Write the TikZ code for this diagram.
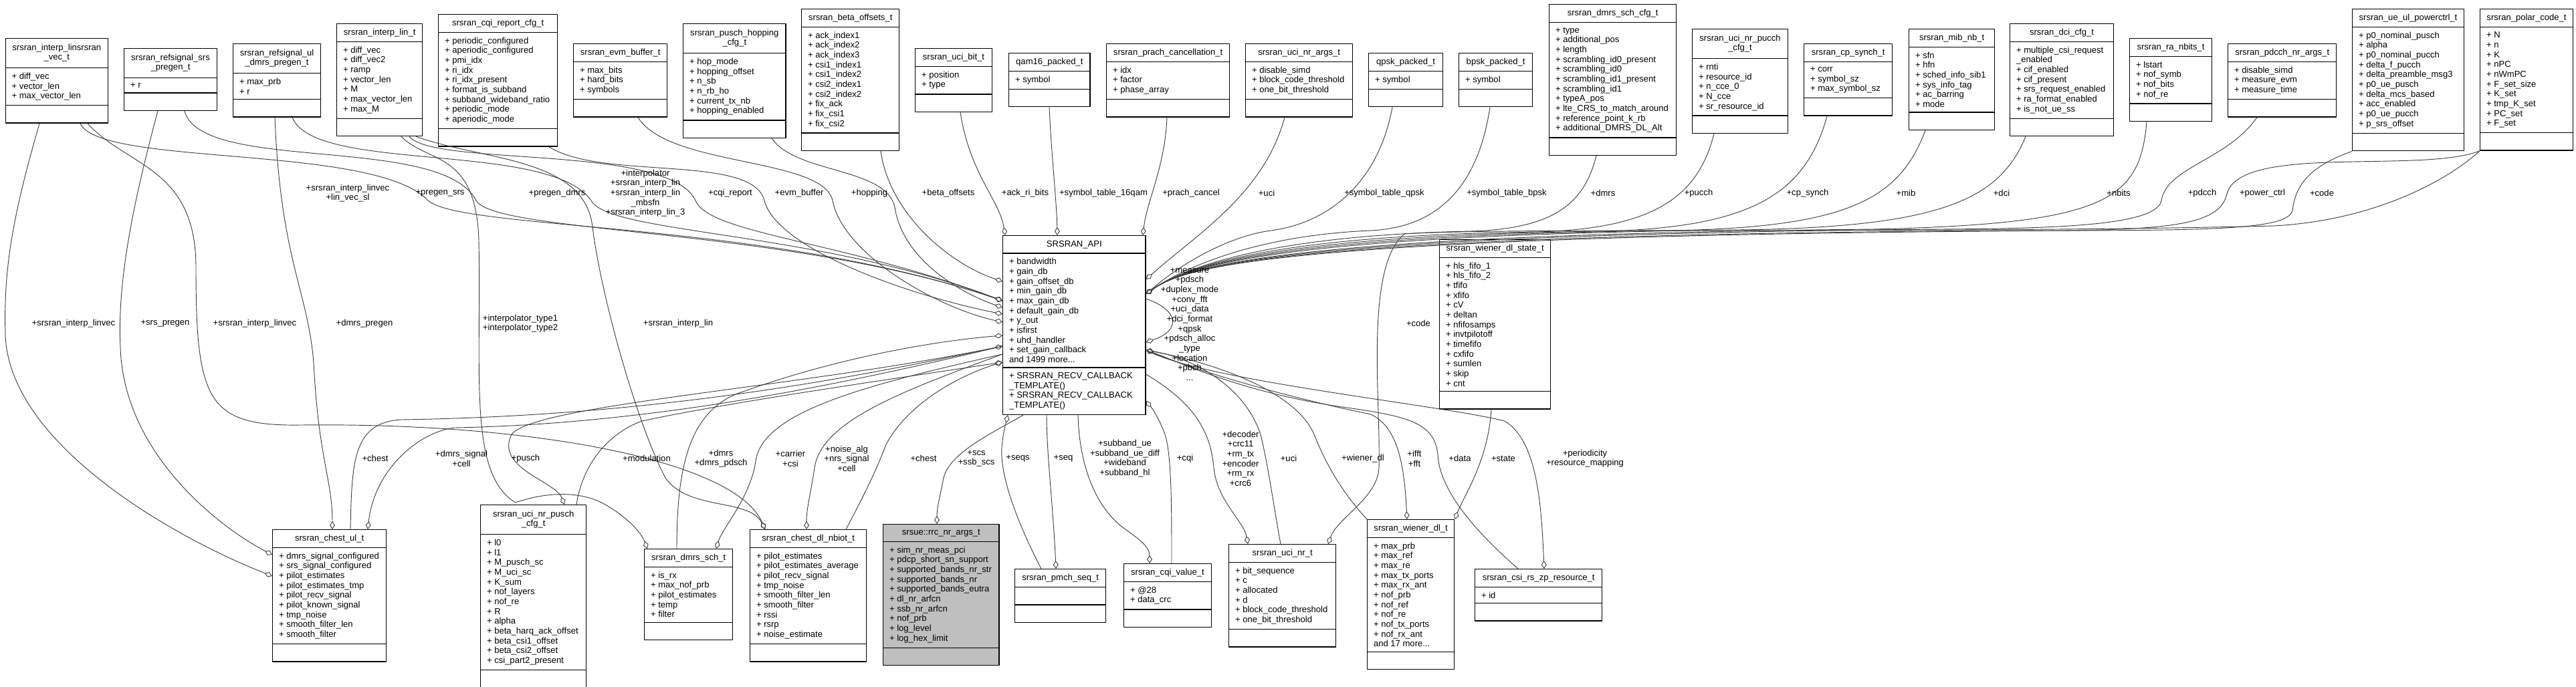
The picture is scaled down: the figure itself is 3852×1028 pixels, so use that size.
\documentclass[tikz,border=0pt]{standalone}
\usepackage{fontspec}
\setmainfont{Liberation Sans}
\usetikzlibrary{shapes.multipart,arrows.meta}
\definecolor{edgegray}{HTML}{404040}
\definecolor{maingray}{HTML}{BFBFBF}
\begin{document}
\begin{tikzpicture}[x=0.75pt, y=-0.75pt, font=\fontsize{9.8}{11}\selectfont, line join=round,
  cls/.style={rectangle split, rectangle split parts=3, draw=black, line width=1pt, fill=white,
    align=left, rectangle split part align={center,left,left}, inner xsep=7pt, inner ysep=5pt, anchor=north west},
  agg/.style={draw=edgegray, line width=0.7pt, -{Diamond[open,length=9pt,width=6pt]}},
  lbl/.style={align=center, inner sep=0pt}]
\useasboundingbox (0,0) rectangle (3852,1028);

% top row
\node[cls, minimum width=115pt] (vec) at (7.5,57) {\begin{tabular}{@{}c@{}}srsran\_interp\_linsrsran\\\_vec\_t\end{tabular}
  \nodepart{two}+ diff\_vec\\+ vector\_len\\+ max\_vector\_len \nodepart{three}\vphantom{Ag}};
\node[cls, minimum width=104pt] (srspregen) at (185,72) {\begin{tabular}{@{}c@{}}srsran\_refsignal\_srs\\\_pregen\_t\end{tabular}
  \nodepart{two}+ r \nodepart{three}\vphantom{Ag}};
\node[cls, minimum width=98pt] (dmrspregen) at (348,65) {\begin{tabular}{@{}c@{}}srsran\_refsignal\_ul\\\_dmrs\_pregen\_t\end{tabular}
  \nodepart{two}+ max\_prb\\+ r \nodepart{three}\vphantom{Ag}};
\node[cls, minimum width=96pt] (interplin) at (503,35) {srsran\_interp\_lin\_t
  \nodepart{two}+ diff\_vec\\+ diff\_vec2\\+ ramp\\+ vector\_len\\+ M\\+ max\_vector\_len\\+ max\_M \nodepart{three}\vphantom{Ag}};
\node[cls, minimum width=133.5pt] (cqireport) at (655,21) {srsran\_cqi\_report\_cfg\_t
  \nodepart{two}+ periodic\_configured\\+ aperiodic\_configured\\+ pmi\_idx\\+ ri\_idx\\+ ri\_idx\_present\\+ format\_is\_subband\\+ subband\_wideband\_ratio\\+ periodic\_mode\\+ aperiodic\_mode \nodepart{three}\vphantom{Ag}};
\node[cls, minimum width=105pt] (evmbuf) at (857,65) {srsran\_evm\_buffer\_t
  \nodepart{two}+ max\_bits\\+ hard\_bits\\+ symbols \nodepart{three}\vphantom{Ag}};
\node[cls, minimum width=115pt] (hopping) at (1021,35) {\begin{tabular}{@{}c@{}}srsran\_pusch\_hopping\\\_cfg\_t\end{tabular}
  \nodepart{two}+ hop\_mode\\+ hopping\_offset\\+ n\_sb\\+ n\_rb\_ho\\+ current\_tx\_nb\\+ hopping\_enabled \nodepart{three}\vphantom{Ag}};
\node[cls, minimum width=109.5pt] (betaoff) at (1198,13) {srsran\_beta\_offsets\_t
  \nodepart{two}+ ack\_index1\\+ ack\_index2\\+ ack\_index3\\+ csi1\_index1\\+ csi1\_index2\\+ csi2\_index1\\+ csi2\_index2\\+ fix\_ack\\+ fix\_csi1\\+ fix\_csi2 \nodepart{three}\vphantom{Ag}};
\node[cls, minimum width=86pt] (ucibit) at (1368,72) {srsran\_uci\_bit\_t
  \nodepart{two}+ position\\+ type \nodepart{three}\vphantom{Ag}};
\node[cls, minimum width=91pt] (qam16) at (1508,79) {qam16\_packed\_t
  \nodepart{two}+ symbol \nodepart{three}\vphantom{Ag}};
\node[cls, minimum width=138pt] (prach) at (1654,65) {srsran\_prach\_cancellation\_t
  \nodepart{two}+ idx\\+ factor\\+ phase\_array \nodepart{three}\vphantom{Ag}};
\node[cls, minimum width=120pt] (ucinrargs) at (1862,65) {srsran\_uci\_nr\_args\_t
  \nodepart{two}+ disable\_simd\\+ block\_code\_threshold\\+ one\_bit\_threshold \nodepart{three}\vphantom{Ag}};
\node[cls, minimum width=83pt] (qpsk) at (2046,79) {qpsk\_packed\_t
  \nodepart{two}+ symbol \nodepart{three}\vphantom{Ag}};
\node[cls, minimum width=82.5pt] (bpsk) at (2181,79) {bpsk\_packed\_t
  \nodepart{two}+ symbol \nodepart{three}\vphantom{Ag}};
\node[cls, minimum width=142.5pt] (dmrscfg) at (2316,6) {srsran\_dmrs\_sch\_cfg\_t
  \nodepart{two}+ type\\+ additional\_pos\\+ length\\+ scrambling\_id0\_present\\+ scrambling\_id0\\+ scrambling\_id1\_present\\+ scrambling\_id1\\+ typeA\_pos\\+ lte\_CRS\_to\_match\_around\\+ reference\_point\_k\_rb\\+ additional\_DMRS\_DL\_Alt \nodepart{three}\vphantom{Ag}};
\node[cls, minimum width=107pt] (pucchcfg) at (2530,43) {\begin{tabular}{@{}c@{}}srsran\_uci\_nr\_pucch\\\_cfg\_t\end{tabular}
  \nodepart{two}+ rnti\\+ resource\_id\\+ n\_cce\_0\\+ N\_cce\\+ sr\_resource\_id \nodepart{three}\vphantom{Ag}};
\node[cls, minimum width=99pt] (cpsynch) at (2697,65) {srsran\_cp\_synch\_t
  \nodepart{two}+ corr\\+ symbol\_sz\\+ max\_symbol\_sz \nodepart{three}\vphantom{Ag}};
\node[cls, minimum width=96pt] (mibnb) at (2854,43) {srsran\_mib\_nb\_t
  \nodepart{two}+ sfn\\+ hfn\\+ sched\_info\_sib1\\+ sys\_info\_tag\\+ ac\_barring\\+ mode \nodepart{three}\vphantom{Ag}};
\node[cls, minimum width=116pt] (dcicfg) at (3005,35) {srsran\_dci\_cfg\_t
  \nodepart{two}+ multiple\_csi\_request\\\_enabled\\+ cif\_enabled\\+ cif\_present\\+ srs\_request\_enabled\\+ ra\_format\_enabled\\+ is\_not\_ue\_ss \nodepart{three}\vphantom{Ag}};
\node[cls, minimum width=92pt] (ranbits) at (3184,57) {srsran\_ra\_nbits\_t
  \nodepart{two}+ lstart\\+ nof\_symb\\+ nof\_bits\\+ nof\_re \nodepart{three}\vphantom{Ag}};
\node[cls, minimum width=121.5pt] (pdcchargs) at (3331,65) {srsran\_pdcch\_nr\_args\_t
  \nodepart{two}+ disable\_simd\\+ measure\_evm\\+ measure\_time \nodepart{three}\vphantom{Ag}};
\node[cls, minimum width=125pt] (powerctrl) at (3517,13) {srsran\_ue\_ul\_powerctrl\_t
  \nodepart{two}+ p0\_nominal\_pusch\\+ alpha\\+ p0\_nominal\_pucch\\+ delta\_f\_pucch\\+ delta\_preamble\_msg3\\+ p0\_ue\_pusch\\+ delta\_mcs\_based\\+ acc\_enabled\\+ p0\_ue\_pucch\\+ p\_srs\_offset \nodepart{three}\vphantom{Ag}};
\node[cls, minimum width=104pt] (polar) at (3708,13) {srsran\_polar\_code\_t
  \nodepart{two}+ N\\+ n\\+ K\\+ nPC\\+ nWmPC\\+ F\_set\_size\\+ K\_set\\+ tmp\_K\_set\\+ PC\_set\\+ F\_set \nodepart{three}\vphantom{Ag}};

% middle
\node[cls, minimum width=160pt] (api) at (1499,352) {SRSRAN\_API
  \nodepart{two}+ bandwidth\\+ gain\_db\\+ gain\_offset\_db\\+ min\_gain\_db\\+ max\_gain\_db\\+ default\_gain\_db\\+ y\_out\\+ isfirst\\+ uhd\_handler\\+ set\_gain\_callback\\and 1499 more...
  \nodepart{three}+ SRSRAN\_RECV\_CALLBACK\\\_TEMPLATE()\\+ SRSRAN\_RECV\_CALLBACK\\\_TEMPLATE()};
\node[cls, minimum width=124.5pt] (wienerstate) at (2152,358) {srsran\_wiener\_dl\_state\_t
  \nodepart{two}+ hls\_fifo\_1\\+ hls\_fifo\_2\\+ tfifo\\+ xfifo\\+ cV\\+ deltan\\+ nfifosamps\\+ invtpilotoff\\+ timefifo\\+ cxfifo\\+ sumlen\\+ skip\\+ cnt \nodepart{three}\vphantom{Ag}};

% bottom row
\node[cls, minimum width=127.5pt] (chestul) at (407,792) {srsran\_chest\_ul\_t
  \nodepart{two}+ dmrs\_signal\_configured\\+ srs\_signal\_configured\\+ pilot\_estimates\\+ pilot\_estimates\_tmp\\+ pilot\_recv\_signal\\+ pilot\_known\_signal\\+ tmp\_noise\\+ smooth\_filter\_len\\+ smooth\_filter \nodepart{three}\vphantom{Ag}};
\node[cls, minimum width=118.5pt] (ucipusch) at (718,755) {\begin{tabular}{@{}c@{}}srsran\_uci\_nr\_pusch\\\_cfg\_t\end{tabular}
  \nodepart{two}+ l0\\+ l1\\+ M\_pusch\_sc\\+ M\_uci\_sc\\+ K\_sum\\+ nof\_layers\\+ nof\_re\\+ R\\+ alpha\\+ beta\_harq\_ack\_offset\\+ beta\_csi1\_offset\\+ beta\_csi2\_offset\\+ csi\_part2\_present \nodepart{three}\vphantom{Ag}};
\node[cls, minimum width=99pt] (dmrssch) at (963,821) {srsran\_dmrs\_sch\_t
  \nodepart{two}+ is\_rx\\+ max\_nof\_prb\\+ pilot\_estimates\\+ temp\\+ filter \nodepart{three}\vphantom{Ag}};
\node[cls, minimum width=130.5pt] (chestdl) at (1121,792) {srsran\_chest\_dl\_nbiot\_t
  \nodepart{two}+ pilot\_estimates\\+ pilot\_estimates\_average\\+ pilot\_recv\_signal\\+ tmp\_noise\\+ smooth\_filter\_len\\+ smooth\_filter\\+ rssi\\+ rsrp\\+ noise\_estimate \nodepart{three}\vphantom{Ag}};
\node[cls, minimum width=130pt, fill=maingray] (rrc) at (1320,784) {srsue::rrc\_nr\_args\_t
  \nodepart{two}+ sim\_nr\_meas\_pci\\+ pdcp\_short\_sn\_support\\+ supported\_bands\_nr\_str\\+ supported\_bands\_nr\\+ supported\_bands\_eutra\\+ dl\_nr\_arfcn\\+ ssb\_nr\_arfcn\\+ nof\_prb\\+ log\_level\\+ log\_hex\_limit \nodepart{three}\vphantom{Ag}};
\node[cls, minimum width=102pt] (pmch) at (1517,851) {srsran\_pmch\_seq\_t
  \nodepart{two}\vphantom{Ag} \nodepart{three}\vphantom{Ag}};
\node[cls, minimum width=98pt] (cqivalue) at (1680,843) {srsran\_cqi\_value\_t
  \nodepart{two}+ @28\\+ data\_crc \nodepart{three}\vphantom{Ag}};
\node[cls, minimum width=120pt] (ucinr) at (1837,814) {srsran\_uci\_nr\_t
  \nodepart{two}+ bit\_sequence\\+ c\\+ allocated\\+ d\\+ block\_code\_threshold\\+ one\_bit\_threshold \nodepart{three}\vphantom{Ag}};
\node[cls, minimum width=97.5pt] (wienerdl) at (2044,777) {srsran\_wiener\_dl\_t
  \nodepart{two}+ max\_prb\\+ max\_ref\\+ max\_re\\+ max\_tx\_ports\\+ max\_rx\_ant\\+ nof\_prb\\+ nof\_ref\\+ nof\_re\\+ nof\_tx\_ports\\+ nof\_rx\_ant\\and 17 more... \nodepart{three}\vphantom{Ag}};
\node[cls, minimum width=142.5pt] (csirs) at (2205,851) {srsran\_csi\_rs\_zp\_resource\_t
  \nodepart{two}+ id \nodepart{three}\vphantom{Ag}};

% connectors, top left
\draw[agg] (vec.south -| 120,0) .. controls (150,250) and (560,215) .. (640,300) .. controls (690,345) and (1150,330) .. (api.west |- 0,450);
\draw[agg] (srspregen.south -| 276,0) .. controls (300,260) and (660,200) .. (712,300) .. controls (740,350) and (1180,340) .. (api.west |- 0,450);
\draw[agg] (dmrspregen.south -| 437,0) .. controls (470,260) and (820,210) .. (884,300) .. controls (910,350) and (1220,345) .. (api.west |- 0,450);
\draw[agg] (interplin.south -| 612,0) .. controls (650,250) and (1000,215) .. (1040,300) .. controls (1060,350) and (1260,360) .. (api.west |- 0,450);
\draw[agg] (cqireport.south -| 821,0) .. controls (900,270) and (1125,230) .. (1143,300) .. controls (1160,370) and (1350,440) .. (api.west |- 0,470);
\draw[agg] (evmbuf.south -| 954,0) .. controls (1000,250) and (1230,235) .. (1245,300) .. controls (1260,380) and (1400,460) .. (api.west |- 0,482);
\draw[agg] (hopping.south -| 1154,0) .. controls (1190,260) and (1325,250) .. (1338,310) .. controls (1350,390) and (1440,440) .. (api.west |- 0,460);
\draw[agg] (betaoff.south -| 1317,0) .. controls (1330,320) and (1420,395) .. (api.west |- 0,421);
\draw[agg] (ucibit.south -| 1436,0) .. controls (1450,260) and (1495,300) .. (api.north -| 1503,0);
\draw[agg] (qam16.south -| 1569,0) .. controls (1572,230) and (1580,300) .. (api.north -| 1581,0);
\draw[agg] (prach.south -| 1745,0) .. controls (1742,250) and (1715,300) .. (api.north -| 1709,0);

% connectors, top right
\draw[agg] (ucinrargs.south -| 1921,0) .. controls (1890,290) and (1790,350) .. (api.east |- 0,418);
\draw[agg] (qpsk.south -| 2082,0) .. controls (2060,280) and (1980,335) .. (1900,345) .. controls (1830,355) and (1760,400) .. (api.east |- 0,440);
\draw[agg] (bpsk.south -| 2228,0) .. controls (2210,280) and (2150,340) .. (2050,345) .. controls (1880,352) and (1770,400) .. (api.east |- 0,440);
\draw[agg] (dmrscfg.south -| 2387,0) .. controls (2370,300) and (2330,342) .. (2200,346) .. controls (1900,352) and (1770,400) .. (api.east |- 0,440);
\draw[agg] (pucchcfg.south -| 2563,0) .. controls (2540,290) and (2480,342) .. (2300,347) .. controls (1900,352) and (1770,400) .. (api.east |- 0,440);
\draw[agg] (cpsynch.south -| 2732,0) .. controls (2700,290) and (2620,340) .. (2400,346) .. controls (1900,352) and (1770,400) .. (api.east |- 0,440);
\draw[agg] (mibnb.south -| 2879,0) .. controls (2840,300) and (2760,340) .. (2500,345) .. controls (1900,352) and (1770,400) .. (api.east |- 0,440);
\draw[agg] (dcicfg.south -| 3029,0) .. controls (2990,300) and (2900,340) .. (2600,344) .. controls (1900,352) and (1770,400) .. (api.east |- 0,440);
\draw[agg] (ranbits.south -| 3210,0) .. controls (3200,300) and (3150,335) .. (2800,343) .. controls (1900,352) and (1770,400) .. (api.east |- 0,440);
\draw[agg] (pdcchargs.south -| 3375,0) .. controls (3330,240) and (3240,250) .. (3232,300) .. controls (3225,335) and (3100,342) .. (2900,343) .. controls (1900,352) and (1770,400) .. (api.east |- 0,440);
\draw[agg] (powerctrl.south west) .. controls (3450,250) and (3432,280) .. (3428,315) .. controls (3420,345) and (3300,345) .. (3000,345) .. controls (1900,352) and (1770,400) .. (api.east |- 0,440);
\draw[agg] (polar.south west) .. controls (3620,260) and (3350,215) .. (3330,290) .. controls (3320,335) and (3250,342) .. (3100,345) .. controls (1900,352) and (1770,400) .. (api.east |- 0,440);
\draw[agg] (polar.south west) .. controls (3660,270) and (3550,330) .. (3400,338) .. controls (2900,350) and (2250,340) .. (2100,350) .. controls (2040,400) and (2065,600) .. (2062,700) .. controls (2060,745) and (2000,775) .. (ucinr.north -| 1986,0);
\draw[agg] (api.east |- 0,447) .. controls (1765,465) and (1765,495) .. (api.east |- 0,512);

% connectors, bottom left
\draw[agg] (vec.south -| 59,0) .. controls (20,320) and (5,400) .. (8,500) .. controls (12,660) and (250,800) .. (chestul.west |- 0,862);
\draw[agg] (srspregen.south -| 236,0) .. controls (200,300) and (175,420) .. (180,520) .. controls (185,680) and (330,790) .. (chestul.west |- 0,830);
\draw[agg] (vec.south -| 131,0) .. controls (190,250) and (293,250) .. (293,400) .. controls (293,600) and (310,638) .. (450,636) .. controls (800,632) and (1100,690) .. (chestdl.north -| 1144,0);
\draw[agg] (dmrspregen.south -| 411,0) .. controls (420,400) and (465,440) .. (470,560) .. controls (478,690) and (497,720) .. (chestul.north -| 497,0);
\draw[agg] (chestul.north -| 524,0) .. controls (526,690) and (528,632) .. (600,628) .. controls (1000,622) and (1300,560) .. (api.west |- 0,518);
\draw[agg] (api.west |- 0,518) .. controls (1300,565) and (1000,634) .. (680,640) .. controls (630,645) and (560,700) .. (chestul.north -| 550,0);
\draw[agg] (interplin.south -| 600,0) .. controls (640,245) and (712,225) .. (716,360) .. controls (720,560) and (700,710) .. (771,752) .. controls (820,735) and (870,735) .. (905,755) .. controls (935,772) and (958,795) .. (dmrssch.north -| 968,0);
\draw[agg] (api.west |- 0,518) .. controls (1200,580) and (800,605) .. (765,650) .. controls (740,700) and (830,720) .. (ucipusch.north -| 844,0);
\draw[agg] (ucipusch.north -| 862,0) .. controls (870,700) and (905,650) .. (960,630) .. controls (1100,600) and (1350,565) .. (api.west |- 0,542);
\draw[agg] (interplin.south -| 622,0) .. controls (720,240) and (875,235) .. (886,340) .. controls (900,450) and (955,640) .. (995,715) .. controls (1030,765) and (1120,745) .. (chestdl.north -| 1144,0);
\draw[agg] (dmrssch.north -| 1012,0) .. controls (1012,700) and (1030,620) .. (1100,590) .. controls (1250,535) and (1400,510) .. (api.west |- 0,502);
\draw[agg] (api.west |- 0,530) .. controls (1300,575) and (1140,615) .. (1130,690) .. controls (1122,745) and (1080,790) .. (dmrssch.north -| 1071,0);
\draw[agg] (api.west |- 0,530) .. controls (1350,585) and (1228,630) .. (1218,700) .. controls (1212,740) and (1206,760) .. (chestdl.north -| 1206,0);
\draw[agg] (chestdl.north -| 1265,0) .. controls (1290,745) and (1310,705) .. (1325,665) .. controls (1360,600) and (1440,560) .. (api.west |- 0,542);

% connectors, bottom right
\draw[agg] (api.south -| 1530,0) .. controls (1480,650) and (1415,680) .. (1410,720) .. controls (1405,745) and (1401,760) .. (rrc.north -| 1401,0);
\draw[agg] (pmch.north -| 1557,0) .. controls (1520,780) and (1495,710) .. (1498,670) .. controls (1500,645) and (1505,630) .. (api.south -| 1507,0);
\draw[agg] (api.south -| 1565,0) .. controls (1565,680) and (1575,760) .. (pmch.north -| 1579,0);
\draw[agg] (api.south -| 1612,0) .. controls (1614,700) and (1640,760) .. (1680,790) .. controls (1705,808) and (1719,818) .. (cqivalue.north -| 1719,0);
\draw[agg] (cqivalue.north -| 1752,0) .. controls (1752,760) and (1752,680) .. (1742,650) .. controls (1733,625) and (1722,610) .. (api.east |- 0,600);
\draw[agg] (api.east |- 0,560) .. controls (1780,600) and (1810,640) .. (1815,700) .. controls (1820,750) and (1860,780) .. (ucinr.north -| 1866,0);
\draw[agg] (ucinr.north -| 1915,0) .. controls (1905,760) and (1897,700) .. (1885,650) .. controls (1860,575) and (1780,535) .. (api.east |- 0,524);
\draw[agg] (wienerdl.north west) .. controls (2010,740) and (1985,700) .. (1965,650) .. controls (1935,580) and (1800,540) .. (api.east |- 0,524);
\draw[agg] (api.east |- 0,524) .. controls (1800,560) and (1950,600) .. (2050,620) .. controls (2092,640) and (2100,700) .. (wienerdl.north -| 2104,0);
\draw[agg] (wienerstate.south -| 2230,0) .. controls (2225,690) and (2190,740) .. (wienerdl.north east);
\draw[agg] (csirs.north -| 2270,0) .. controls (2200,790) and (2152,730) .. (2150,680) .. controls (2145,630) and (2100,622) .. (2000,608) .. controls (1850,585) and (1760,540) .. (api.east |- 0,524);
\draw[agg] (api.east |- 0,524) .. controls (1800,570) and (2150,605) .. (2250,630) .. controls (2300,660) and (2305,760) .. (csirs.north -| 2309,0);

% labels
\node[lbl] (l1) at (520,289) {+srsran\_interp\_linvec\\+lin\_vec\_sl};
\node[lbl] (l2) at (658,289) {+pregen\_srs};
\node[lbl] (l3) at (833,289) {+pregen\_dmrs};
\node[lbl] (l4) at (965,289) {+interpolator\\+srsran\_interp\_lin\\+srsran\_interp\_lin\\\_mbsfn\\+srsran\_interp\_lin\_3};
\node[lbl] (l5) at (1092,289) {+cqi\_report};
\node[lbl] (l6) at (1195,289) {+evm\_buffer};
\node[lbl] (l7) at (1300,289) {+hopping};
\node[lbl] (l8) at (1418,289) {+beta\_offsets};
\node[lbl] (l9) at (1533,289) {+ack\_ri\_bits};
\node[lbl] (l10) at (1650,289) {+symbol\_table\_16qam};
\node[lbl] (l11) at (1781,289) {+prach\_cancel};
\node[lbl] (l12) at (1894,289) {+uci};
\node[lbl] (l13) at (2070,289) {+symbol\_table\_qpsk};
\node[lbl] (l14) at (2253,289) {+symbol\_table\_bpsk};
\node[lbl] (l15) at (2397,289) {+dmrs};
\node[lbl] (l16) at (2540,289) {+pucch};
\node[lbl] (l17) at (2703,289) {+cp\_synch};
\node[lbl] (l18) at (2850,289) {+mib};
\node[lbl] (l19) at (2993,289) {+dci};
\node[lbl] (l20) at (3168,289) {+nbits};
\node[lbl] (l21) at (3293,289) {+pdcch};
\node[lbl] (l22) at (3383,289) {+power\_ctrl};
\node[lbl] (l23) at (3472,289) {+code};
\node[lbl] (m1) at (110,484) {+srsran\_interp\_linvec};
\node[lbl] (m2) at (247,484) {+srs\_pregen};
\node[lbl] (m3) at (381,484) {+srsran\_interp\_linvec};
\node[lbl] (m4) at (545,484) {+dmrs\_pregen};
\node[lbl] (m5) at (778,484) {+interpolator\_type1\\+interpolator\_type2};
\node[lbl] (m6) at (1014,484) {+srsran\_interp\_lin};
\node[lbl] (m7) at (1779,485) {+measure\\+pdsch\\+duplex\_mode\\+conv\_fft\\+uci\_data\\+dci\_format\\+qpsk\\+pdsch\_alloc\\\_type\\+location\\+pbch\\...};
\node[lbl] (m8) at (2121,484) {+code};
\node[lbl] (b1) at (561,686) {+chest};
\node[lbl] (b2) at (690,686) {+dmrs\_signal\\+cell};
\node[lbl] (b3) at (786,686) {+pusch};
\node[lbl] (b4) at (967,686) {+modulation};
\node[lbl] (b5) at (1078,686) {+dmrs\\+dmrs\_pdsch};
\node[lbl] (b6) at (1182,686) {+carrier\\+csi};
\node[lbl] (b7) at (1266,686) {+noise\_alg\\+nrs\_signal\\+cell};
\node[lbl] (b8) at (1381,686) {+chest};
\node[lbl] (b9) at (1460,686) {+scs\\+ssb\_scs};
\node[lbl] (b10) at (1522,686) {+seqs};
\node[lbl] (b11) at (1590,686) {+seq};
\node[lbl] (b12) at (1682,686) {+subband\_ue\\+subband\_ue\_diff\\+wideband\\+subband\_hl};
\node[lbl] (b13) at (1772,686) {+cqi};
\node[lbl] (b14) at (1855,686) {+decoder\\+crc11\\+rm\_tx\\+encoder\\+rm\_rx\\+crc6};
\node[lbl] (b15) at (1927,686) {+uci};
\node[lbl] (b16) at (2038,686) {+wiener\_dl};
\node[lbl] (b17) at (2115,686) {+ifft\\+fft};
\node[lbl] (b18) at (2183,686) {+data};
\node[lbl] (b19) at (2248,686) {+state};
\node[lbl] (b20) at (2370,686) {+periodicity\\+resource\_mapping};
\end{tikzpicture}
\end{document}
